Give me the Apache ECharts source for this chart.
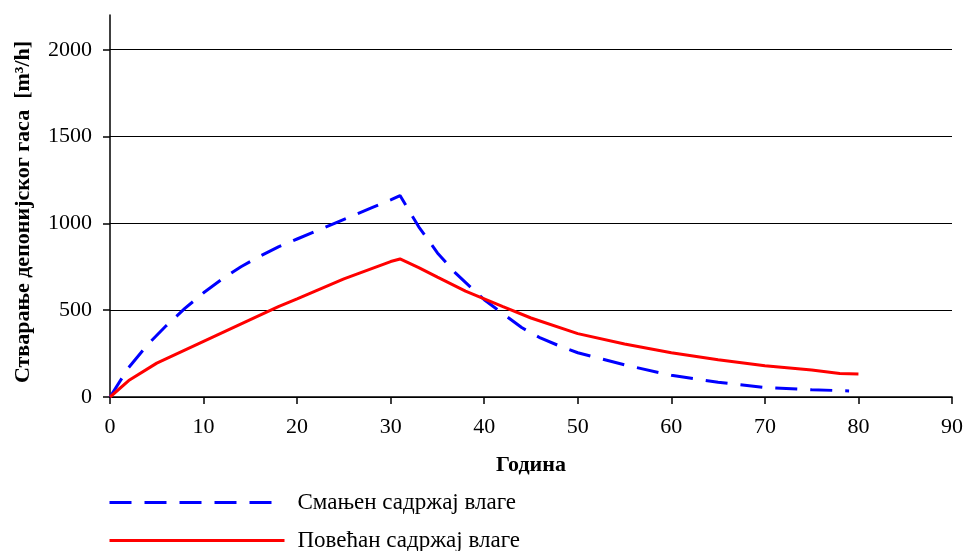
<!DOCTYPE html>
<html>
<head>
<meta charset="utf-8">
<script src="https://cdn.jsdelivr.net/npm/echarts@6/dist/echarts.min.js"></script>
<style>
  html, body { margin: 0; padding: 0; background: #fff; }
  #main { width: 966px; height: 551px; }
</style>
</head>
<body>
<div id="main"></div>
<script>
// Смањен садржај влаге (плава, испрекидана)
var lowYears  = [0, 2, 4, 6, 8, 10, 12, 14, 16, 18, 20, 22, 24, 26, 28, 30, 31, 33, 35, 37, 40, 42, 44, 46, 48, 50, 55, 60, 65, 70, 75, 79];
var lowValues = [0, 170, 300, 410, 510, 600, 680, 750, 810, 865, 910, 955, 1000, 1045, 1090, 1135, 1160, 980, 830, 710, 560, 480, 400, 340, 295, 255, 185, 125, 85, 55, 42, 35];

// Повећан садржај влаге (црвена, пуна)
var highYears  = [0, 2, 5, 10, 15, 18, 20, 25, 30, 31, 33, 35, 38, 40, 42, 45, 50, 55, 60, 65, 70, 75, 78, 80];
var highValues = [0, 95, 195, 320, 445, 520, 565, 680, 780, 795, 745, 690, 610, 565, 520, 455, 365, 305, 255, 215, 180, 155, 135, 132];

var yTicks = [0, 500, 1000, 1500, 2000];
var seriesNames = ['Смањен садржај влаге', 'Повећан садржај влаге'];

function pairs(xs, ys) {
  return xs.map(function (x, i) { return [x, ys[i]]; });
}

var font = '"Liberation Serif", "Times New Roman", serif';
var chart = echarts.init(document.getElementById('main'));

function legendFor(name, top) {
  return {
    orient: 'vertical',
    left: 103,
    top: top,
    itemWidth: 175,
    itemHeight: 4,
    itemStyle: { opacity: 0 },
    lineStyle: { width: 3 },
    textStyle: { fontFamily: font, fontSize: 23, color: '#000', padding: [0, 0, 0, 8] },
    data: [name]
  };
}

var option = {
  animation: false,
  textStyle: { fontFamily: font, color: '#000' },
  grid: { left: 110, right: 14, top: 15, bottom: 154 },
  legend: [legendFor(seriesNames[0], 486), legendFor(seriesNames[1], 524)],
  xAxis: {
    type: 'value',
    min: 0,
    max: 90,
    interval: 10,
    name: 'Година',
    nameLocation: 'middle',
    nameGap: 57,
    nameTextStyle: { fontFamily: font, fontSize: 22, fontWeight: 'bold', color: '#000' },
    axisLine: { lineStyle: { color: '#000', width: 1.5 } },
    axisTick: { show: true, inside: false, length: 7, lineStyle: { color: '#000', width: 1.5 } },
    axisLabel: { fontFamily: font, fontSize: 22, color: '#000', margin: 19 },
    splitLine: { show: false }
  },
  yAxis: {
    type: 'value',
    min: 0,
    max: 2200,
    interval: 500,
    name: 'Стварање депонијског гаса  [m³/h]',
    nameLocation: 'middle',
    nameGap: 76,
    nameRotate: 90,
    nameTextStyle: { fontFamily: font, fontSize: 22, fontWeight: 'bold', color: '#000', padding: [0, 12, 0, 0] },
    axisLine: { show: true, lineStyle: { color: '#000', width: 1.5 } },
    axisTick: { show: true, inside: false, length: 7, customValues: yTicks, lineStyle: { color: '#000', width: 1.5 } },
    axisLabel: {
      fontFamily: font, fontSize: 22, color: '#000', margin: 18, customValues: yTicks,
      formatter: function (v) { return String(v); }
    },
    splitLine: { show: true, lineStyle: { color: '#000', width: 1.2 } }
  },
  series: [
    {
      name: seriesNames[0],
      type: 'line',
      symbol: 'none',
      data: pairs(lowYears, lowValues),
      lineStyle: { color: '#0000ff', width: 3, type: [22, 13] },
      itemStyle: { color: '#0000ff' }
    },
    {
      name: seriesNames[1],
      type: 'line',
      symbol: 'none',
      data: pairs(highYears, highValues),
      lineStyle: { color: '#ff0000', width: 3 },
      itemStyle: { color: '#ff0000' }
    }
  ]
};

chart.setOption(option);
</script>
</body>
</html>
